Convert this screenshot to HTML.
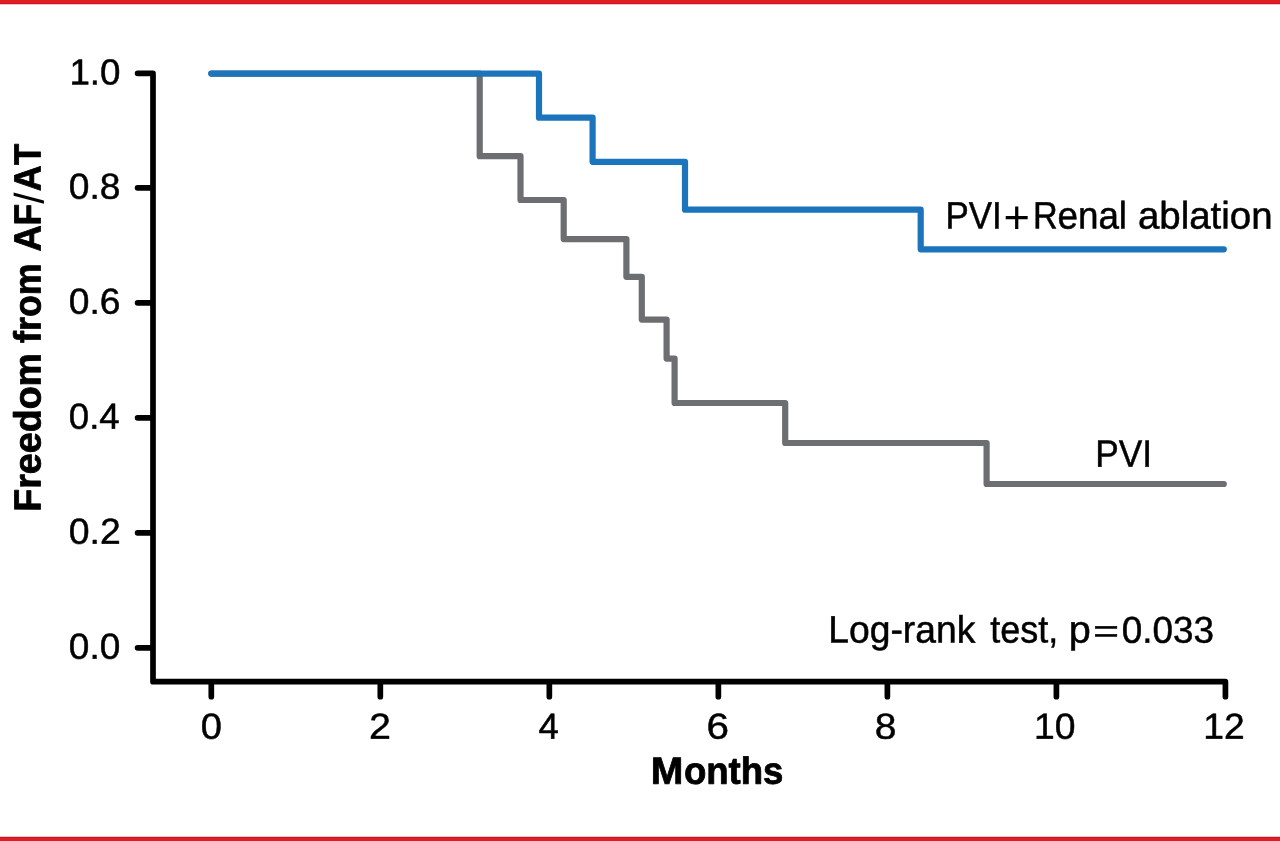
<!DOCTYPE html>
<html lang="en">
<head>
<meta charset="utf-8">
<title>Freedom from AF/AT</title>
<style>
html,body{margin:0;padding:0;background:#fff;}
body{width:1280px;height:841px;overflow:hidden;position:relative;}
svg{position:absolute;left:0;top:0;display:block;}
text{font-family:"Liberation Sans",sans-serif;fill:#000;stroke:#000;stroke-width:0.5;stroke-linejoin:round;}
.b{font-weight:bold;stroke-width:0.8;}
.n{font-weight:normal;stroke:none;}
</style>
</head>
<body>
<svg width="1280" height="841" viewBox="0 0 1280 841">
<rect x="0" y="0" width="1280" height="841" fill="#fff"/>
<rect x="0" y="0" width="1280" height="2" fill="#e11e1f"/>
<rect x="0" y="2" width="1280" height="1" fill="#e51a2a"/>
<rect x="0" y="3" width="1280" height="1" fill="#c5162a"/>
<rect x="0" y="4" width="1280" height="1" fill="#f5c3c7"/>
<rect x="0" y="836" width="1280" height="1" fill="#f5c3c7"/>
<rect x="0" y="837" width="1280" height="1" fill="#c5162a"/>
<rect x="0" y="838" width="1280" height="1" fill="#dc1e27"/>
<rect x="0" y="839" width="1280" height="2" fill="#e41a23"/>
<path d="M211.3 73.6 H479.7 V156.2 H520.5 V200 H563.7 V239.1 H626.4 V276.8 H641.8 V319.6 H666.6 V358.6 H674.6 V403 H785.2 V443 H986.6 V484 H1223.8" fill="none" stroke="#6d6e71" stroke-width="6.2" stroke-linecap="round" stroke-linejoin="round"/>
<path d="M211.3 73.6 H539 V117.7 H592.6 V161.8 H685 V209.7 H920.7 V249.3 H1223.8" fill="none" stroke="#1c75bc" stroke-width="6.2" stroke-linecap="round" stroke-linejoin="round"/>
<g fill="none" stroke="#000" stroke-width="5.7" stroke-linecap="round" stroke-linejoin="round">
<path d="M137.6 73.30 H153.0 V681.7 H1225.42 V696.7"/>
<path d="M137.6 187.85 H151.5 M137.6 302.85 H151.5 M137.6 417.85 H151.5 M137.6 532.85 H151.5 M137.6 647.85 H151.5"/>
<path d="M211.30 683.2 V696.7 M380.32 683.2 V696.7 M549.34 683.2 V696.7 M718.36 683.2 V696.7 M887.38 683.2 V696.7 M1056.40 683.2 V696.7"/>
</g>
<text font-size="38.2" transform="translate(948.20 228.80) rotate(0.04)"><tspan x="-2.74" y="-0.25" textLength="56.27" lengthAdjust="spacingAndGlyphs">PVI</tspan><tspan class="n" font-size="46.05" x="55.39" y="4.26" textLength="26.43" lengthAdjust="spacingAndGlyphs">+</tspan><tspan x="84.81" y="-0.31" textLength="24.70" lengthAdjust="spacingAndGlyphs">R</tspan><tspan x="109.25" y="-0.33" textLength="69.57" lengthAdjust="spacingAndGlyphs">enal</tspan> <tspan x="189.69" y="-0.38" textLength="134.71" lengthAdjust="spacingAndGlyphs">ablation</tspan></text>
<text font-size="38.2" transform="translate(1098.00 466.90) rotate(0.04)"><tspan x="-2.77" y="-0.25" textLength="56.83" lengthAdjust="spacingAndGlyphs">PVI</tspan></text>
<text font-size="38.2" transform="translate(831.20 642.80) rotate(0.04)"><tspan x="-2.92" y="-0.25" textLength="146.95" lengthAdjust="spacingAndGlyphs">Log-rank</tspan> <tspan x="159.16" y="-0.36" textLength="67.92" lengthAdjust="spacingAndGlyphs">test,</tspan> <tspan x="237.47" y="-0.42" textLength="22.03" lengthAdjust="spacingAndGlyphs">p</tspan><tspan font-size="31.76" x="262.07" y="-1.23" textLength="25.73" lengthAdjust="spacingAndGlyphs">=</tspan><tspan font-size="37.4" x="290.67" y="-0.35" textLength="92.24" lengthAdjust="spacingAndGlyphs">0.033</tspan></text>
<text font-size="36.3" transform="translate(71.90 84.85) rotate(0.04)"><tspan x="-2.53" y="-0.25" textLength="51.06" lengthAdjust="spacingAndGlyphs">1.0</tspan></text>
<text font-size="36.3" transform="translate(70.10 198.95) rotate(0.04)"><tspan x="-1.28" y="-0.25" textLength="51.68" lengthAdjust="spacingAndGlyphs">0.8</tspan></text>
<text font-size="36.3" transform="translate(70.10 313.95) rotate(0.04)"><tspan x="-1.28" y="-0.25" textLength="51.68" lengthAdjust="spacingAndGlyphs">0.6</tspan></text>
<text font-size="36.3" transform="translate(70.10 428.95) rotate(0.04)"><tspan x="-1.26" y="-0.25" textLength="50.88" lengthAdjust="spacingAndGlyphs">0.4</tspan></text>
<text font-size="36.3" transform="translate(70.10 543.95) rotate(0.04)"><tspan x="-1.29" y="-0.25" textLength="51.96" lengthAdjust="spacingAndGlyphs">0.2</tspan></text>
<text font-size="36.3" transform="translate(70.10 658.95) rotate(0.04)"><tspan x="-1.27" y="-0.25" textLength="51.42" lengthAdjust="spacingAndGlyphs">0.0</tspan></text>
<text font-size="36.3" transform="translate(202.00 738.90) rotate(0.04)"><tspan x="-1.31" y="-0.25" textLength="21.15" lengthAdjust="spacingAndGlyphs">0</tspan></text>
<text font-size="36.3" transform="translate(370.70 738.90) rotate(0.04)"><tspan x="-1.63" y="-0.25" textLength="21.97" lengthAdjust="spacingAndGlyphs">2</tspan></text>
<text font-size="36.3" transform="translate(539.10 738.90) rotate(0.04)"><tspan x="-0.50" y="-0.25" textLength="20.29" lengthAdjust="spacingAndGlyphs">4</tspan></text>
<text font-size="36.3" transform="translate(708.10 738.90) rotate(0.04)"><tspan x="-1.67" y="-0.25" textLength="22.47" lengthAdjust="spacingAndGlyphs">6</tspan></text>
<text font-size="36.3" transform="translate(876.20 738.90) rotate(0.04)"><tspan x="-1.34" y="-0.25" textLength="21.69" lengthAdjust="spacingAndGlyphs">8</tspan></text>
<text font-size="36.3" transform="translate(1036.50 738.90) rotate(0.04)"><tspan x="-2.56" y="-0.25" textLength="41.42" lengthAdjust="spacingAndGlyphs">10</tspan></text>
<text font-size="36.3" transform="translate(1205.80 738.90) rotate(0.04)"><tspan x="-2.57" y="-0.25" textLength="41.43" lengthAdjust="spacingAndGlyphs">12</tspan></text>
<text class="b" font-size="37.9" transform="translate(653.00 784.20) rotate(0.04)"><tspan x="-2.32" y="-0.40" textLength="32.56" lengthAdjust="spacingAndGlyphs">M</tspan><tspan x="30.89" y="-0.42" textLength="99.52" lengthAdjust="spacingAndGlyphs">onths</tspan></text>
<text class="b" font-size="37.9" transform="translate(40.80 509.50) rotate(-89.96)"><tspan x="-2.23" y="-0.40" textLength="158.75" lengthAdjust="spacingAndGlyphs">Freedom</tspan> <tspan x="166.56" y="-0.52" textLength="79.48" lengthAdjust="spacingAndGlyphs">from</tspan> <tspan x="257.92" y="-0.58" textLength="26.38" lengthAdjust="spacingAndGlyphs">A</tspan><tspan x="284.10" y="-0.60" textLength="21.65" lengthAdjust="spacingAndGlyphs">F</tspan><tspan class="n" font-size="41.25" x="305.80" y="2.44" textLength="11.17" lengthAdjust="spacingAndGlyphs">/</tspan><tspan x="318.33" y="-0.62" textLength="25.86" lengthAdjust="spacingAndGlyphs">A</tspan><tspan x="344.50" y="-0.64" textLength="21.21" lengthAdjust="spacingAndGlyphs">T</tspan></text>
</svg>
</body>
</html>
